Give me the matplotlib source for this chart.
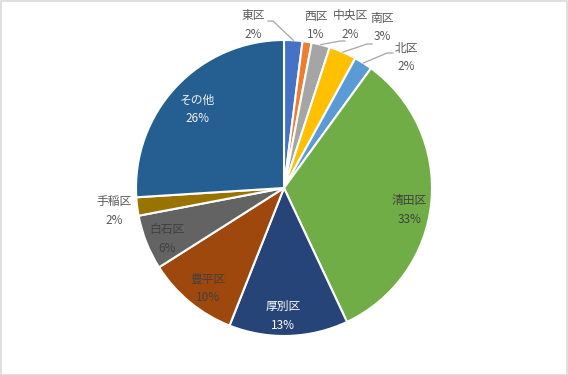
import numpy as np
import matplotlib
matplotlib.use("Agg")
import matplotlib.pyplot as plt
from matplotlib.patches import Rectangle

plt.rcParams['font.family'] = ['Noto Sans CJK JP', 'DejaVu Sans']

# ---- data ----
categories = ["東区", "西区", "中央区", "南区", "北区", "清田区", "厚別区", "豊平区", "白石区", "手稲区", "その他"]
values = [2, 1, 2, 3, 2, 33, 13, 10, 6, 2, 26]
colors = ["#4472C4", "#ED7D31", "#A5A5A5", "#FFC000", "#5B9BD5", "#70AD47",
          "#264478", "#9E480E", "#636363", "#997300", "#255E91"]

# ---- layout (label polar position: radius, angle in degrees) ----
label_pos = [(1.12, 100.8), (1.12, 78.9), (1.19, 67.9), (1.27, 58.5), (1.21, 46.8),
             (0.86, -10.0), (0.865, -90.4), (0.85, -127.0), (0.86, -156.4),
             (1.16, -172.3), (0.79, 137.8)]
label_colors = ["#595959"] * 5 + ["#404040", "#FFFFFF", "#404040", "#404040", "#595959", "#F2F2F2"]
# leader lines: index -> (elbow_x, elbow_y, end_x)
leaders = {0: (-0.074, 1.128, -0.108), 2: (0.378, 0.993, 0.412),
           3: (0.561, 0.973, 0.595), 4: (0.696, 0.912, 0.736)}

W, H = 568, 375
fig = plt.figure(figsize=(W / 100, H / 100), dpi=100)
fig.patch.set_facecolor("white")
fig.patches.append(Rectangle((0.5 / W, 0.5 / H), 1 - 1.5 / W, 1 - 1.5 / H,
                             transform=fig.transFigure, fill=False,
                             edgecolor="#D9D9D9", linewidth=1.2))

cx, cy, R = 284, 188, 148
ax = fig.add_axes([(cx - R) / W, (H - cy - R) / H, 2 * R / W, 2 * R / H])
wedges, _ = ax.pie(values, colors=colors, startangle=90, counterclock=False,
                   radius=1.0, wedgeprops=dict(edgecolor="white", linewidth=1.5))
ax.set_xlim(-1, 1)
ax.set_ylim(-1, 1)
ax.set_aspect("equal")
ax.axis("off")

total = sum(values)
for i, (cat, v) in enumerate(zip(categories, values)):
    r, ang = label_pos[i]
    x, y = r * np.cos(np.radians(ang)), r * np.sin(np.radians(ang))
    pct = f"{round(100 * v / total)}%"
    ax.text(x, y, f"{cat}\n{pct}", ha="center", va="center", fontsize=8.5,
            color=label_colors[i], linespacing=1.55, clip_on=False)
    if i in leaders:
        w = wedges[i]
        mid = np.radians((w.theta1 + w.theta2) / 2)
        ex, ey, endx = leaders[i]
        ax.plot([np.cos(mid), ex, endx], [np.sin(mid), ey, ey], color="#A6A6A6",
                linewidth=0.9, clip_on=False)

fig.savefig("out.png", dpi=100)
